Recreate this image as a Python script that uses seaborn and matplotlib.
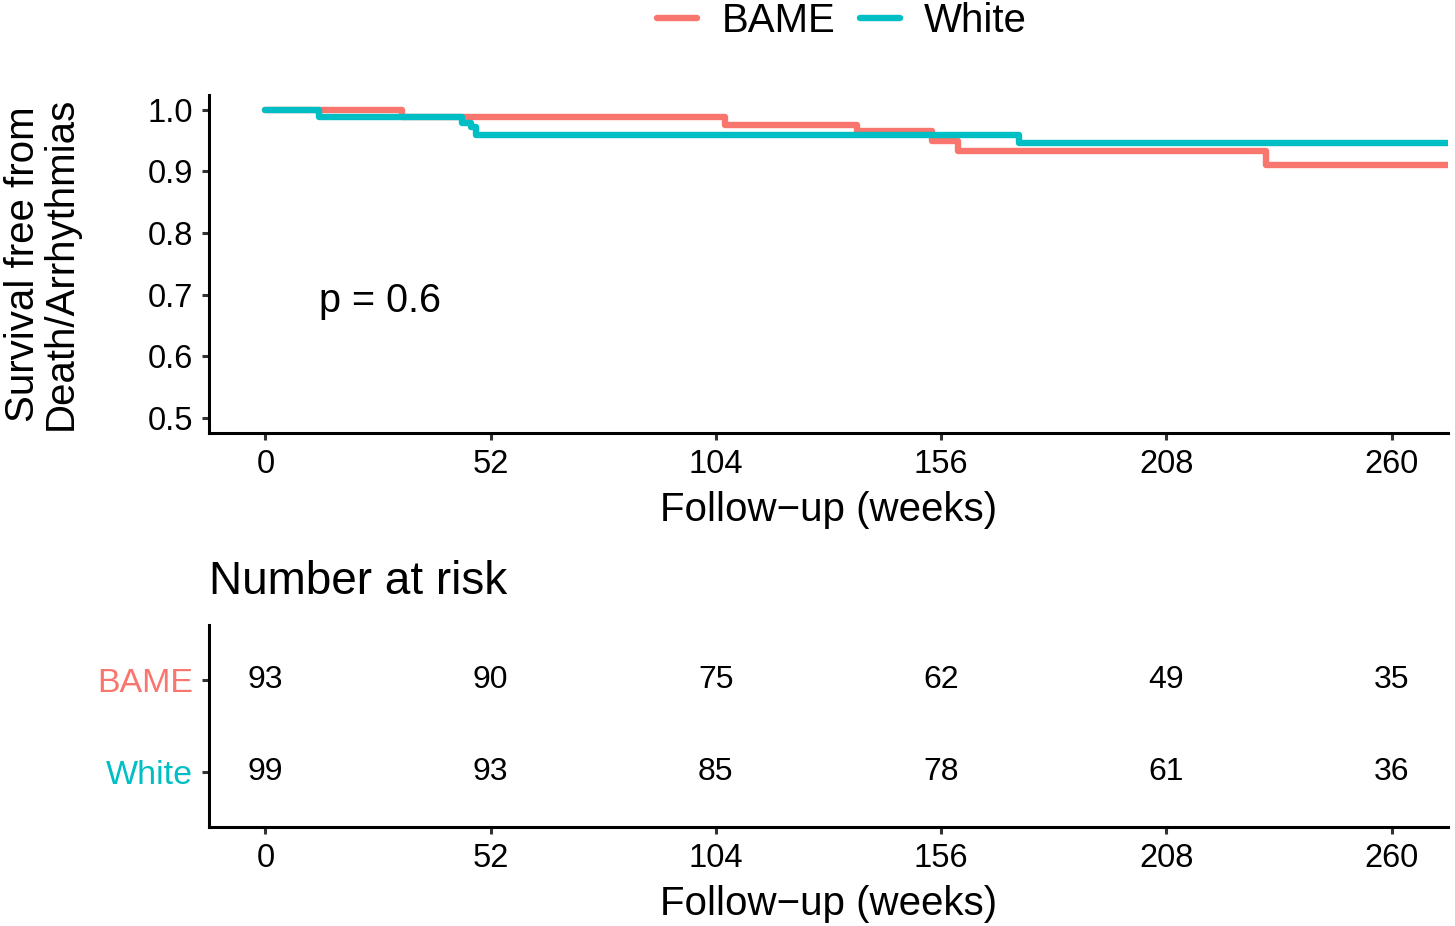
import matplotlib
matplotlib.use("Agg")
import matplotlib.pyplot as plt
import seaborn as sns
import pandas as pd
import numpy as np

# ---- data ----
groups = ["BAME", "White"]
bame_time = [0, 31.6, 106, 136.5, 153.8, 159.8, 231, 273]
bame_surv = [1.0, 0.988, 0.976, 0.966, 0.949, 0.933, 0.910, 0.910]
white_time = [0, 12.5, 45.5, 47.5, 48.7, 174, 273]
white_surv = [1.0, 0.989, 0.979, 0.972, 0.960, 0.946, 0.946]
risk_times = [0, 52, 104, 156, 208, 260]
risk_bame = [93, 90, 75, 62, 49, 35]
risk_white = [99, 93, 85, 78, 61, 36]
y_ticks = [0.5, 0.6, 0.7, 0.8, 0.9, 1.0]
p_text = "p = 0.6"

colors = {"BAME": "#F8766D", "White": "#00BFC4"}

df = pd.concat([
    pd.DataFrame({"time": bame_time, "surv": bame_surv, "group": "BAME"}),
    pd.DataFrame({"time": white_time, "surv": white_surv, "group": "White"}),
], ignore_index=True)

sns.set_theme(style="ticks")
plt.rcParams["font.family"] = ["Liberation Sans", "DejaVu Sans"]
plt.rcParams["text.color"] = "black"
plt.rcParams["axes.labelcolor"] = "black"
plt.rcParams["xtick.color"] = "black"
plt.rcParams["ytick.color"] = "black"

W, H = 1455, 926
fig = plt.figure(figsize=(W / 100, H / 100), dpi=100)

def fx(px):
    return px / W

def fy(py):
    return 1 - py / H

ax = fig.add_axes([fx(209), fy(433), fx(1448) - fx(209), fy(94.5) - fy(433)])
axr = fig.add_axes([fx(209), fy(827), fx(1448) - fx(209), fy(625) - fy(827)])

sns.lineplot(data=df, x="time", y="surv", hue="group", palette=colors,
             hue_order=groups, drawstyle="steps-post", estimator=None,
             sort=False, linewidth=4.6, ax=ax, legend=True)

ax.set_xlim(-13, 273)
ax.set_ylim(0.475, 1.025)
ax.set_xticks(risk_times)
ax.set_yticks(y_ticks)
ax.set_yticklabels([f"{v:.1f}" for v in y_ticks])
ax.set_xlabel("Follow\u2212up (weeks)", fontsize=29, labelpad=8, color="black")
ax.set_ylabel("Survival free from\nDeath/Arrhythmias", fontsize=29,
              linespacing=1.0, color="black")
ax.yaxis.set_label_coords(-0.104, 0.5)
ax.text(12.5, 0.690, p_text, fontsize=28.5, ha="left", va="center", color="black")

# legend
handles, labels = ax.get_legend_handles_labels()
ax.get_legend().remove()
leg = fig.legend(handles, labels, loc="center", bbox_to_anchor=(fx(842), fy(21)),
                 ncol=2, frameon=False, fontsize=29, handlelength=1.0,
                 handletextpad=0.6, columnspacing=0.6)
for t in leg.get_texts():
    t.set_color("black")

for a in (ax, axr):
    for s in ("top", "right"):
        a.spines[s].set_visible(False)
    for s in ("left", "bottom"):
        a.spines[s].set_linewidth(2.2)
        a.spines[s].set_color("black")
    a.tick_params(axis="both", direction="out", length=5, width=2.2,
                  color="#333333", labelsize=23.5, labelcolor="black", pad=6.5)

# risk table
risk_df = pd.DataFrame({
    "time": risk_times * 2,
    "n": risk_bame + risk_white,
    "group": ["BAME"] * len(risk_times) + ["White"] * len(risk_times),
})
ypos = {g: i for i, g in enumerate(groups)}
for _, r in risk_df.iterrows():
    axr.text(r["time"], ypos[r["group"]], str(r["n"]), ha="center",
             va="center", fontsize=23, color="black")
axr.set_xlim(-13, 273)
axr.set_ylim(1.6, -0.6)
axr.set_xticks(risk_times)
axr.set_yticks([0, 1])
axr.set_yticklabels(groups)
for lbl, g in zip(axr.get_yticklabels(), groups):
    lbl.set_color(colors[g])
axr.tick_params(axis="y", labelsize=24.5)
axr.set_xlabel("Follow\u2212up (weeks)", fontsize=29, labelpad=8, color="black")
axr.set_ylabel("")
axr.set_title("Number at risk", fontsize=33, loc="left", pad=22, color="black")

fig.savefig("out.png", dpi=100)
